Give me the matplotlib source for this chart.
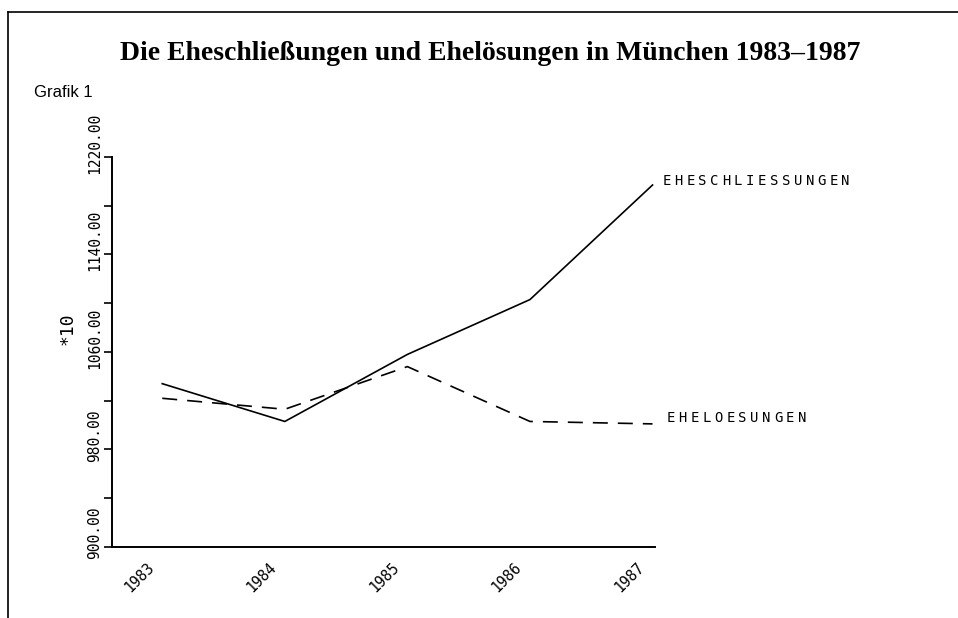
import matplotlib
matplotlib.use("Agg")
import matplotlib.pyplot as plt
import matplotlib.transforms as mtransforms
from matplotlib.lines import Line2D

# Werte (x10)
years = [1983, 1984, 1985, 1986, 1987]
eheschliessungen = [1034, 1003, 1058, 1103, 1197]
eheloesungen = [1022, 1013, 1048, 1003, 1001]

y_ticks = [900, 940, 980, 1020, 1060, 1100, 1140, 1180, 1220]
y_labels = ['900.00', '', '980.00', '', '1060.00', '', '1140.00', '', '1220.00']

mono = 'DejaVu Sans Mono'

fig = plt.figure(figsize=(9.58, 6.18), dpi=100)
ax = fig.add_axes([0.1169, 0.1149, 0.5668, 0.6311])

ax.plot(years, eheschliessungen, color='black', lw=1.2, solid_joinstyle='miter')
ax.plot(years, eheloesungen, color='black', lw=1.2, ls=(0, (9, 6)))

ax.set_xlim(1982.59, 1987.02)
ax.set_ylim(900, 1220)

# Achsen
for side in ['top', 'right']:
    ax.spines[side].set_visible(False)
ax.spines['left'].set_linewidth(1.4)
ax.spines['bottom'].set_linewidth(1.4)

ax.set_yticks(y_ticks)
ax.set_yticklabels(y_labels, rotation=90, va='center', family=mono, fontsize=10.5)
ax.tick_params(axis='y', length=6, width=1.2, pad=1)
up = mtransforms.ScaledTranslation(0, 10 / 72, fig.dpi_scale_trans)
for lbl in ax.get_yticklabels():
    lbl.set_transform(lbl.get_transform() + up)

ax.set_xticks(years)
ax.set_xticklabels([str(y) for y in years], rotation=45, ha='right', va='top',
                   family=mono, fontsize=10.5)
ax.tick_params(axis='x', length=0, pad=9)
shift = mtransforms.ScaledTranslation(-4 / 72, 0, fig.dpi_scale_trans)
for lbl in ax.get_xticklabels():
    lbl.set_transform(lbl.get_transform() + shift)

ax.set_ylabel('*10', family=mono, fontsize=13)
ax.yaxis.set_label_coords(-0.066, 0.56)


def spaced_label(text, x, y, dx, dy, pitch=8.6):
    # Plotterschrift: jeden Buchstaben einzeln setzen
    for i, ch in enumerate(text):
        ax.annotate(ch, xy=(x, y), xytext=(dx + i * pitch, dy),
                    textcoords='offset points', family=mono, fontsize=10,
                    ha='left', va='center', annotation_clip=False)


spaced_label('EHESCHLIESSUNGEN', years[-1], eheschliessungen[-1], 7, 3)
spaced_label('EHELOESUNGEN', years[-1], eheloesungen[-1], 10, 4)

# Titel
fig.text(0.512, 0.913, 'Die Eheschließungen und Ehelösungen in München 1983–1987',
         ha='center', va='center', family='Liberation Serif', weight='bold', fontsize=20)
fig.text(0.036, 0.851, 'Grafik 1', ha='left', va='center',
         family='Liberation Sans', fontsize=12)

# Rahmen links und oben
fig.add_artist(Line2D([0.0084, 0.0084], [0, 0.981], color='black', lw=1.2,
                      transform=fig.transFigure))
fig.add_artist(Line2D([0.0084, 1.0], [0.981, 0.981], color='black', lw=1.2,
                      transform=fig.transFigure))

plt.savefig('out.png', dpi=100)
